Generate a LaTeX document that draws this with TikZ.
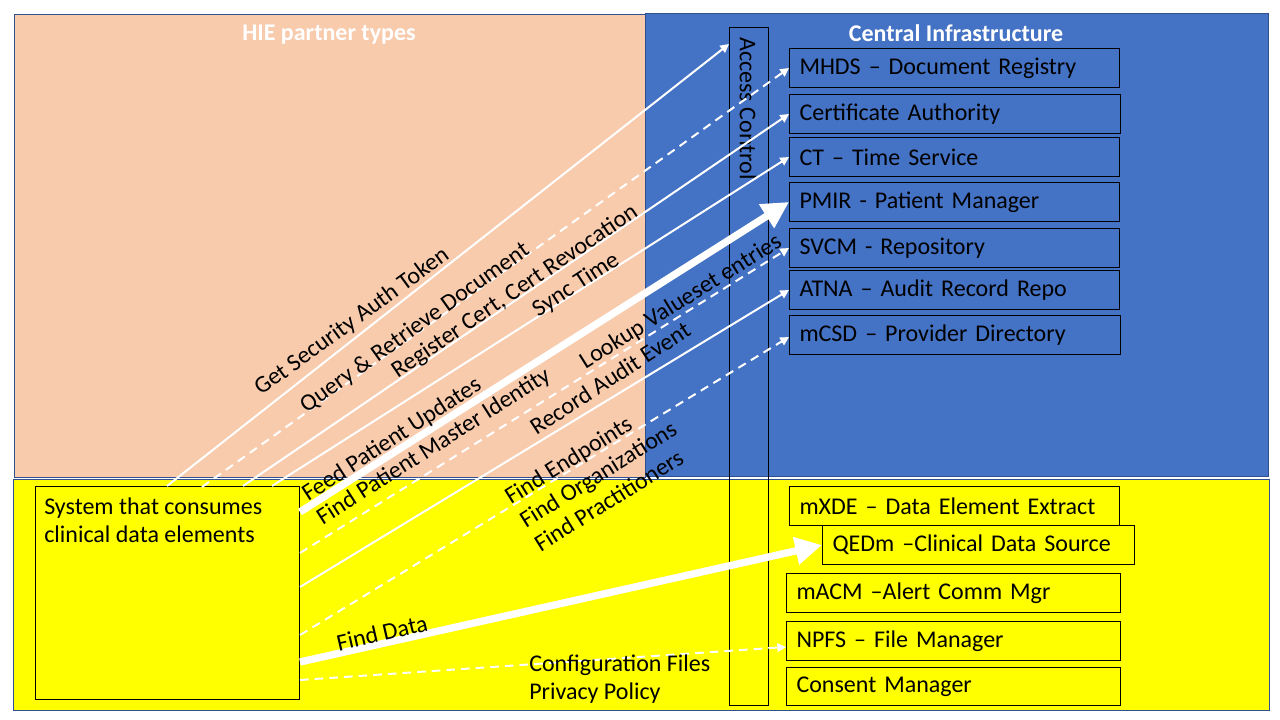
\documentclass[tikz,border=0pt]{standalone}
\usepackage{fontspec}
\setmainfont{Carlito}
\usetikzlibrary{arrows.meta,calc}
\definecolor{salmon}{HTML}{F8CBAD}
\definecolor{cblue}{HTML}{4472C4}
\definecolor{bord}{HTML}{2F528F}
\definecolor{yel}{HTML}{FFFF00}
\begin{document}
\begin{tikzpicture}[x=0.75pt,y=-0.75pt, font=\fontsize{18}{21}\selectfont,
 region/.style={draw=bord, line width=0.75pt},
 rbox/.style={draw=black, line width=0.75pt, anchor=north west, minimum height=29.25pt, inner xsep=7.5pt, inner ysep=0pt, align=left, text width=#1},
 thinarrow/.style={draw=white, line width=1.5pt, -{Triangle[length=6.5pt,width=6.5pt]}},
 dasharrow/.style={thinarrow, dash pattern=on 6.5pt off 4.5pt},
 thickarrow/.style={draw=white, line width=5.5pt, -{Triangle[length=20pt,width=20pt]}},
 lbl/.style={inner sep=0pt, align=left},
 hdr/.style={text=white, inner sep=0pt, font=\fontsize{18}{21}\selectfont\bfseries}]
\useasboundingbox (0,0) rectangle (1280,720);
% regions
\fill[white] (0,0) rectangle (1280,720);
\draw[region, fill=salmon] (14,15) rectangle (645,477);
\draw[region, fill=cblue] (645,14) rectangle (1268,476);
\draw[region, fill=yel] (13,479) rectangle (1269,710);
\node[hdr] (h1) at (329,35) {HIE partner types};
\node[hdr] (h2) at (956,33) {Central Infrastructure};
% access control
\node[draw=black, line width=0.75pt, anchor=north west, minimum width=29.25pt, minimum height=508.5pt, inner sep=0pt] (ac) at (729,27) {};
\node[rotate=-90, anchor=west, inner sep=0pt] (actext) at (748,37) {Access Control};
% right boxes
\node[rbox=232.5pt] (mhds) at (789,48) {MHDS – Document Registry};
\node[rbox=233.25pt] (cert) at (789,94) {Certificate Authority};
\node[rbox=232.5pt] (ct) at (789,137) {CT – Time Service};
\node[rbox=232.5pt] (pmir) at (789,182) {PMIR - Patient Manager};
\node[rbox=232.5pt] (svcm) at (789,228) {SVCM - Repository};
\node[rbox=232.5pt] (atna) at (789,270) {ATNA – Audit Record Repo};
\node[rbox=233.25pt] (mcsd) at (789,315) {mCSD – Provider Directory};
\node[rbox=232.5pt] (mxde) at (789,486) {mXDE – Data Element Extract};
\node[rbox=219pt] (qedm) at (822,525) {QEDm –Clinical Data Source};
\node[rbox=235.5pt] (macm) at (786,573) {mACM –Alert Comm Mgr};
\node[rbox=235.5pt] (npfs) at (786,621) {NPFS – File Manager};
\node[rbox=235.5pt, minimum height=28.5pt] (consent) at (786,667) {Consent Manager};
% left system box
\node[draw=black, line width=0.75pt, anchor=north west, minimum width=198pt, minimum height=159.75pt, inner sep=0pt] (sys) at (35,486) {};
\node[lbl, anchor=north west] (systext) at (44,498) {System that consumes\\clinical data elements};
% arrows
\draw[thinarrow] ($(sys.north west)+(132,0)$) -- ($(ac.north west)+(0,17)$);
\draw[dasharrow] ($(sys.north west)+(167,1)$) -- (mhds.west);
\draw[thinarrow] ($(sys.north west)+(208,0)$) -- (cert.west);
\draw[thinarrow] ($(sys.north west)+(237,0)$) -- (ct.west);
\draw[thickarrow] ($(sys.north east)+(0,26)$) -- (pmir.west);
\draw[dasharrow] ($(sys.north east)+(0,67)$) -- (svcm.west);
\draw[thinarrow] ($(sys.north east)+(0,101)$) -- (atna.west);
\draw[dasharrow] ($(sys.north east)+(0,149)$) -- ($(mcsd.west)+(0,2)$);
\draw[thickarrow] ($(sys.north east)+(0,176)$) -- (qedm.west);
\draw[dasharrow] ($(sys.north east)+(0,194)$) -- ($(npfs.west)+(0,6)$);
% labels
\node[lbl, rotate=36] (l1) at (352,322) {Get Security Auth Token};
\node[lbl, rotate=35.5] (l2) at (415,328) {Query \& Retrieve Document};
\node[lbl, rotate=34] (l3) at (515,292) {Register Cert, Cert Revocation};
\node[lbl, rotate=33] (l4) at (576,285) {Sync Time};
\node[lbl, rotate=33] (l5) at (392,440) {Feed Patient Updates};
\node[lbl, rotate=32.5] (l6) at (434,447) {Find Patient Master Identity};
\node[lbl, rotate=32] (l7) at (681,302) {Lookup Valueset entries};
\node[lbl, rotate=33] (l8) at (610,378) {Record Audit Event};
\node[lbl, rotate=32] (l9) at (598,474) {Find Endpoints\\Find Organizations\\Find Practitioners};
\node[lbl, rotate=13] (l10) at (382,633) {Find Data};
\node[lbl, anchor=west] (l11) at (529,679) {Configuration Files\\Privacy Policy};
\end{tikzpicture}
\end{document}
